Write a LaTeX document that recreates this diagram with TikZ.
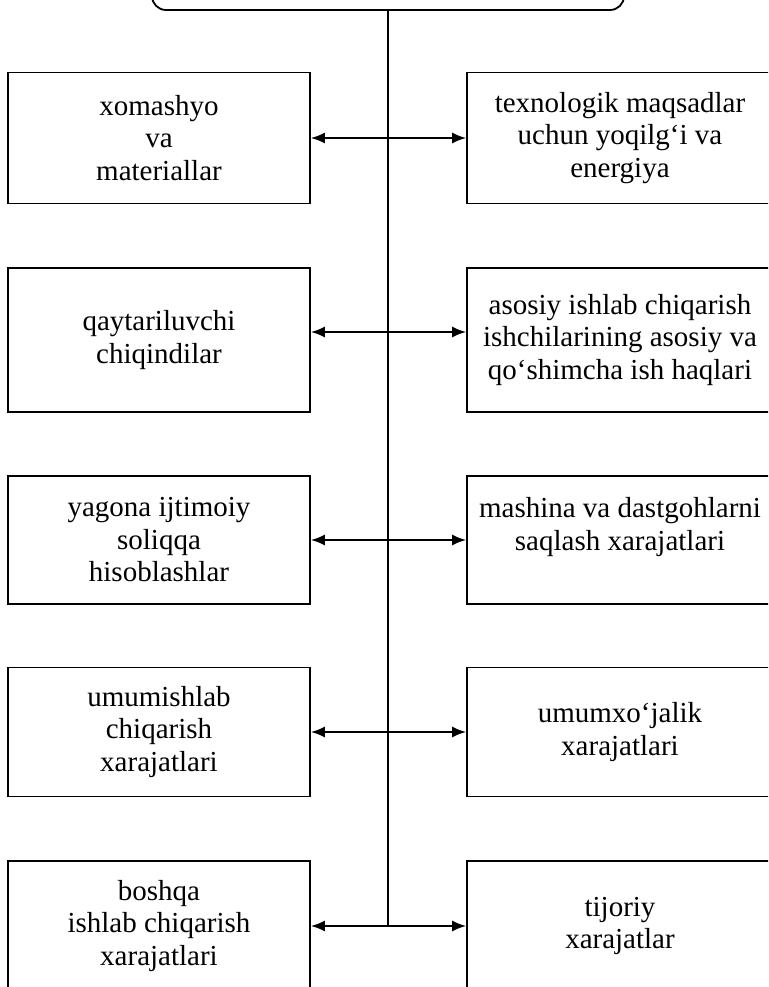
\documentclass[tikz,border=0pt]{standalone}
\usepackage{fontspec}
\setmainfont{Liberation Serif}
\usetikzlibrary{arrows.meta}

\begin{document}
\begin{tikzpicture}[
    x=1pt, y=-1pt,
    every node/.style={font=\fontsize{29}{32.5}\selectfont},
    box/.style={draw, line width=1.8pt, align=center, minimum height=131pt, inner sep=1pt},
    lbox/.style={box, minimum width=302pt},
    rbox/.style={box, minimum width=306pt},
    headbox/.style={draw, line width=1.8pt, rounded corners=14pt, minimum width=472pt, minimum height=80pt},
    arr/.style={{Latex[length=14pt,width=11pt]}-{Latex[length=14pt,width=11pt]}, line width=1.7pt},
    spine/.style={line width=1.5pt}
  ]
  \useasboundingbox (0,0) rectangle (768,987);
  \clip (0,0) rectangle (768,987);

  % top box, only its lower edge is in the picture
  \node[headbox] (hd) at (388,-30) {};

  % left column
  \node[lbox] (l1) at (159,138) {xomashyo\\va\\materiallar};
  \node[lbox, minimum height=144pt] (l2) at (159,340) {qaytariluvchi\\chiqindilar};
  \node[lbox, minimum height=128pt] (l3) at (159,540) {yagona ijtimoiy\\soliqqa\\hisoblashlar};
  \node[lbox, minimum height=129pt] (l4) at (159,732) {umumishlab\\chiqarish\\xarajatlari};
  \node[lbox, minimum height=130pt] (l5) at (159,926) {boshqa\\ishlab chiqarish\\xarajatlari};

  % right column
  \node[rbox] (r1) at (620,138) {texnologik maqsadlar\\uchun yoqilg‘i va\\energiya};
  \node[rbox, minimum height=144pt] (r2) at (620,340) {asosiy ishlab chiqarish\\ishchilarining asosiy va\\qo‘shimcha ish haqlari};
  \node[rbox, minimum height=128pt] (r3) at (620,540) {mashina va dastgohlarni\\saqlash xarajatlari\\~};
  \node[rbox, minimum height=129pt] (r4) at (620,732) {umumxo‘jalik\\xarajatlari};
  \node[rbox, minimum height=130pt] (r5) at (620,926) {tijoriy\\xarajatlar};

  \draw[spine] (hd.south) -- (hd.south |- l5.east);

  \draw[arr] (l1.east) -- (r1.west);
  \draw[arr] ([yshift=8pt]l2.east) -- ([yshift=8pt]r2.west);
  \draw[arr] (l3.east) -- (r3.west);
  \draw[arr] (l4.east) -- (r4.west);
  \draw[arr] (l5.east) -- (r5.west);
\end{tikzpicture}
\end{document}
